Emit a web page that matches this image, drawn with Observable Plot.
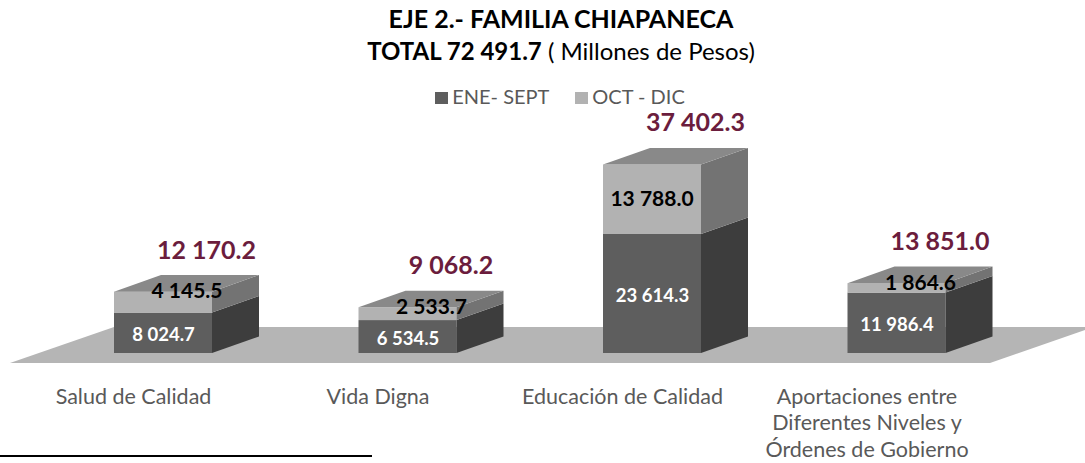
<!DOCTYPE html>
<html>
<head>
<meta charset="utf-8">
<script src="https://cdn.jsdelivr.net/npm/d3@7"></script>
<script src="https://cdn.jsdelivr.net/npm/@observablehq/plot@0.6"></script>
<style>
  html, body { margin:0; padding:0; background:#fff; }
  body { width:1085px; height:463px; position:relative; overflow:hidden; font-family: Lato, "Open Sans", sans-serif; }
  #title { position:absolute; left:0; top:3px; width:1122px; text-align:center; color:#000; }
  #title .l1 { font-size:25px; font-weight:bold; line-height:31px; }
  #title .l2 { font-size:24px; line-height:33px; }
  #legend { position:absolute; left:0; top:84px; width:1120px; text-align:center; font-size:20px; color:#595959; }
  #legend span.item { display:inline-block; margin:0 13px; }
  #legend span.sw { display:inline-block; width:13px; height:12px; margin-right:4px; vertical-align:0px; }
  #chart { position:absolute; left:0; top:110px; }
  #rule { position:absolute; left:0; top:455px; width:372px; height:2px; background:#000; }
</style>
</head>
<body>
<div id="title"></div>
<div id="legend"></div>
<div id="chart"></div>
<div id="rule"></div>
<script>
// ---- data ----
const categories = ["Salud de Calidad", "Vida Digna", "Educación de Calidad", "Aportaciones entre\nDiferentes Niveles y\nÓrdenes de Gobierno"];
const seriesNames = ["ENE- SEPT", "OCT - DIC"];
const eneSept = [8024.7, 6534.5, 23614.3, 11986.4];
const octDic = [4145.5, 2533.7, 13788.0, 1864.6];
const totals = [12170.2, 9068.2, 37402.3, 13851.0];
const grandTotal = 72491.7;
const titleText = "EJE 2.- FAMILIA CHIAPANECA";
const unitText = "( Millones de Pesos)";

// ---- styling / layout ----
const colors = {eneFront:"#5e5e5e", eneSide:"#3d3d3d", octFront:"#b2b2b2", octSide:"#737373", top:"#898989", floor:"#b5b5b5", total:"#6b1d3d"};
const fmt = d3.formatLocale({decimal:".", thousands:" ", grouping:[3], currency:["",""]}).format(",.1f");

const W = 1085, H = 353;
const pxPerCat = 244.5, x0px = 163;            // x: category index -> px
const yPerPx = 1000 / 5.04, zeroPx = 243;       // y: value -> px
const xDomain = [-x0px / pxPerCat, (W - x0px) / pxPerCat];
const yDomain = [-(H - zeroPx) * yPerPx, zeroPx * yPerPx];
const xPx = 1 / pxPerCat;
const barHalf = 49 * xPx, depthX = 47 * xPx, depthY = 16.6 * yPerPx;
const floorBackY = 26 * yPerPx, floorDepthX = 104 * xPx, floorDepthY = 36 * yPerPx;
const floorLeft = -barHalf, floorRight = (categories.length - 1) + 197.5 * xPx;

// ---- title & legend ----
document.getElementById("title").innerHTML =
  `<div class="l1">${titleText}</div><div class="l2"><b>TOTAL ${fmt(grandTotal)}</b> ${unitText}</div>`;
document.getElementById("legend").innerHTML =
  `<span class="item"><span class="sw" style="background:${colors.eneFront}"></span>${seriesNames[0]}</span>` +
  `<span class="item"><span class="sw" style="background:${colors.octFront}"></span>${seriesNames[1]}</span>`;

// ---- derived geometry from data ----
const segs = categories.flatMap((c, i) => [
  {i, key:"ENE", lo:0, hi:eneSept[i], v:eneSept[i]},
  {i, key:"OCT", lo:eneSept[i], hi:eneSept[i] + octDic[i], v:octDic[i]}
]);
const sides = segs.flatMap(s => [
  {key:s.key, z:s.i + s.key, x:s.i + barHalf, y1:s.lo, y2:s.hi},
  {key:s.key, z:s.i + s.key, x:s.i + barHalf + depthX, y1:s.lo + depthY, y2:s.hi + depthY}
]);
const tops = totals.flatMap((t, i) => [
  {z:i, y:t, x1:i - barHalf, x2:i + barHalf},
  {z:i, y:t + depthY, x1:i - barHalf + depthX, x2:i + barHalf + depthX}
]);
const floor = [
  {y:floorBackY - floorDepthY, x1:floorLeft - floorDepthX, x2:floorRight - floorDepthX},
  {y:floorBackY, x1:floorLeft, x2:floorRight}
];
const smallSeg = v => v / yPerPx < 30;
const octLabels = octDic.map((v, i) => smallSeg(v)
  ? {x:i + 24 * xPx, y:totals[i], dy:-8, text:fmt(v)}
  : {x:i, y:eneSept[i] + v / 2, dy:1, text:fmt(v)});

const chart = Plot.plot({
  width:W, height:H, margin:0,
  x:{domain:xDomain, axis:null},
  y:{domain:yDomain, axis:null},
  style:{fontFamily:"Lato, 'Open Sans', sans-serif", overflow:"visible", background:"transparent"},
  marks:[
    Plot.areaX(floor, {y:"y", x1:"x1", x2:"x2", fill:colors.floor}),
    Plot.rect(segs, {x1:d => d.i - barHalf, x2:d => d.i + barHalf, y1:"lo", y2:"hi",
      fill:d => d.key === "ENE" ? colors.eneFront : colors.octFront}),
    Plot.areaY(sides.filter(d => d.key === "ENE"), {x:"x", y1:"y1", y2:"y2", z:"z", fill:colors.eneSide}),
    Plot.areaY(sides.filter(d => d.key === "OCT"), {x:"x", y1:"y1", y2:"y2", z:"z", fill:colors.octSide}),
    Plot.areaX(tops, {y:"y", x1:"x1", x2:"x2", z:"z", fill:colors.top}),
    Plot.text(eneSept, {x:(d, i) => i, y:d => d / 2, dy:2, text:d => fmt(d), fill:"white", fontWeight:"bold", fontSize:18.5}),
    Plot.text(octLabels, {x:"x", y:"y", dy:"dy", text:"text", fill:"black", fontWeight:"bold", fontSize:21}),
    Plot.text(totals, {x:(d, i) => i + depthX - 4 * xPx, y:d => d + depthY, dy:-25, text:d => fmt(d), fill:colors.total, fontWeight:"bold", fontSize:25}),
    Plot.text(categories, {x:(d, i) => i - 30 * xPx, y:-32 * yPerPx, text:d => d, lineAnchor:"top", lineHeight:1.22, fill:"#595959", fontSize:21.5})
  ]
});
document.getElementById("chart").appendChild(chart);
</script>
</body>
</html>
